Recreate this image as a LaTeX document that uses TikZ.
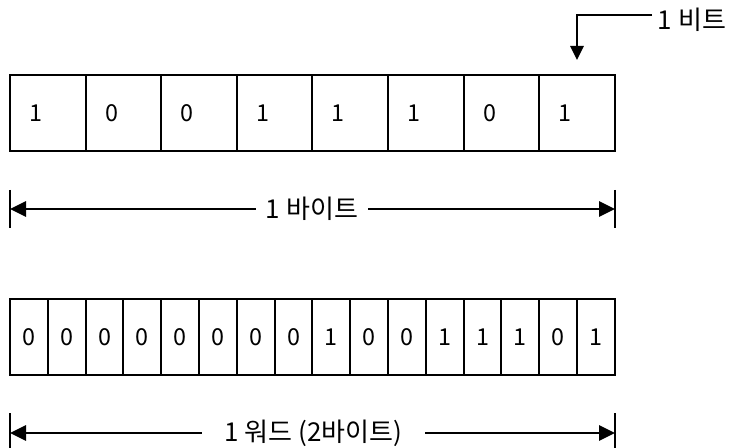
\documentclass[tikz,border=0pt]{standalone}
\usepackage{fontspec}
\setmainfont{Noto Sans CJK KR}
\usetikzlibrary{arrows.meta}
\begin{document}
\begin{tikzpicture}[x=0.75pt,y=-0.75pt,
  every node/.style={font=\fontsize{17.5}{20}\selectfont},
  labeltext/.style={font=\fontsize{19.5}{22}\selectfont},
  cellbox/.style={draw, line width=1.5pt, rectangle, inner sep=0pt, minimum height=57pt},
  dimline/.style={line width=1.5pt, -{Triangle[length=12pt,width=11.5pt]}},
  bitarrow/.style={line width=1.5pt, -{Triangle[length=10.5pt,width=10pt]}},
  bar/.style={line width=1.5pt},
  dimlabel/.style={labeltext, fill=white, inner sep=0pt, minimum height=16pt}
]
\useasboundingbox (0,0) rectangle (734,448);

% top row: one byte
\foreach \a/\b/\d [count=\i] in {10/86/1,86/161/0,161/237/0,237/312/1,312/388/1,388/464/1,464/539/0,539/615/1} {
  \node[cellbox, minimum width={(\b-\a)*0.75pt}] (t\i) at ({(\a+\b)/2},113) {};
  \node[inner sep=0pt] (td\i) at ({\a+26},113.5) {\d};
}

% 1 bit callout
\node[labeltext, anchor=west, inner xsep=2pt, inner ysep=0pt] (bitlabel) at (655,20) {1 비트};
\coordinate (bitstart) at (652,15);
\draw[bitarrow, shorten >=10.5pt] (bitstart) -| (t8.north);

% byte dimension
\coordinate (byteL) at (10,209);
\coordinate (byteR) at (615,209);
\draw[bar] (byteL) ++(0,-19) -- ++(0,38);
\draw[bar] (byteR) ++(0,-19) -- ++(0,38);
\node[dimlabel, minimum width=84pt] (bytelabel) at (312,209) {1 바이트};
\draw[dimline] (bytelabel) -- (byteL);
\draw[dimline] (bytelabel) -- (byteR);

% bottom row: one word
\foreach \a/\b/\d [count=\i] in {10/48/0,48/86/0,86/123/0,123/161/0,161/199/0,199/237/0,237/275/0,275/312/0,312/350/1,350/388/0,388/426/0,426/464/1,464/501/1,501/539/1,539/577/0,577/615/1} {
  \node[cellbox, minimum width={(\b-\a)*0.75pt}] (b\i) at ({(\a+\b)/2},337) {};
  \node[inner sep=0pt] (bd\i) at (b\i.center) {\d};
}

% word dimension
\coordinate (wordL) at (10,433);
\coordinate (wordR) at (615,433);
\draw[bar] (wordL) ++(0,-20) -- ++(0,40);
\draw[bar] (wordR) ++(0,-20) -- ++(0,40);
\node[dimlabel, minimum width=167pt] (wordlabel) at (313.5,433) {1 워드 (2바이트)};
\draw[dimline] (wordlabel) -- (wordL);
\draw[dimline] (wordlabel) -- (wordR);
\end{tikzpicture}
\end{document}
